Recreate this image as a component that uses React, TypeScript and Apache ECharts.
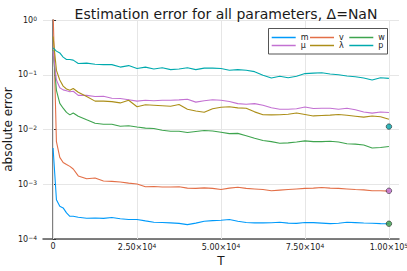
import React, { useEffect, useRef } from "react";
import * as echarts from "echarts";

const T = [0, 1000, 2000, 3000, 4000, 5000, 6000, 7500,
  10000, 12500, 15000, 17500, 20000, 22500, 25000, 27500, 30000, 32500,
  35000, 37500, 40000, 42500, 45000, 47500, 50000, 52500, 55000, 57500,
  60000, 62500, 65000, 67500, 70000, 72500, 75000, 77500, 80000, 82500,
  85000, 87500, 90000, 92500, 95000, 97500, 100000];

const mErr = [0.0046, 0.00052, 0.000395, 0.00037, 0.0003, 0.00026, 0.00026, 0.00025,
  0.00024, 0.000242, 0.000238, 0.000247, 0.000234, 0.000227, 0.000227, 0.000214, 0.000202, 0.0002,
  0.000197, 0.000193, 0.000183, 0.000195, 0.000211, 0.000217, 0.00022, 0.000227, 0.000211, 0.0002,
  0.000197, 0.000197, 0.000198, 0.000202, 0.000195, 0.000193, 0.0002, 0.000199, 0.000195, 0.000191,
  0.000194, 0.000202, 0.000199, 0.000196, 0.000194, 0.000191, 0.00019];

const vErr = [1.5, 0.006, 0.0031, 0.0025, 0.0023, 0.00212, 0.0019, 0.00142,
  0.00126, 0.0013, 0.00115, 0.00113, 0.0011, 0.00105, 0.00101, 0.0009, 0.00091, 0.00089,
  0.00089, 0.0009, 0.00085, 0.00084, 0.00086, 0.00084, 0.0008, 0.00085, 0.00088, 0.00084,
  0.00082, 0.0008, 0.00076, 0.00078, 0.0008, 0.00082, 0.00084, 0.00085, 0.00087, 0.00085,
  0.00084, 0.00082, 0.0008, 0.00079, 0.00076, 0.00076, 0.00075];

const wErr = [0.28, 0.052, 0.03, 0.0245, 0.0206, 0.0185, 0.02, 0.0175,
  0.015, 0.013, 0.0125, 0.0125, 0.0115, 0.0117, 0.0111, 0.0106, 0.0104, 0.0097,
  0.0093, 0.0093, 0.0088, 0.0092, 0.0096, 0.0094, 0.0089, 0.0084, 0.0085, 0.0077,
  0.0069, 0.0063, 0.006, 0.0056, 0.0057, 0.0059, 0.0062, 0.006, 0.006, 0.0061,
  0.0059, 0.0055, 0.0054, 0.0052, 0.0046, 0.0047, 0.0049];

const muErr = [0.27, 0.08, 0.058, 0.053, 0.051, 0.049, 0.05, 0.042,
  0.042, 0.04, 0.0405, 0.0373, 0.0368, 0.035, 0.033, 0.0343, 0.0336, 0.0343,
  0.0343, 0.0347, 0.0357, 0.0316, 0.0336, 0.035, 0.0343, 0.0325, 0.0297, 0.029,
  0.0297, 0.0278, 0.0249, 0.0234, 0.0234, 0.0239, 0.0257, 0.0242, 0.0245, 0.0245,
  0.0234, 0.0245, 0.023, 0.0209, 0.0199, 0.0209, 0.0204];

const lambdaErr = [0.5, 0.12, 0.08, 0.062, 0.055, 0.052, 0.056, 0.048,
  0.04, 0.033, 0.033, 0.0323, 0.0306, 0.0343, 0.026, 0.0284, 0.0278, 0.0272,
  0.0266, 0.0286, 0.0234, 0.0218, 0.0207, 0.0239, 0.0255, 0.026, 0.0248, 0.0245,
  0.021, 0.0186, 0.0185, 0.0186, 0.019, 0.02, 0.0188, 0.0177, 0.018, 0.0183,
  0.0188, 0.0182, 0.0175, 0.0168, 0.0176, 0.0171, 0.0154];

const pErr = [0.31, 0.27, 0.25, 0.21, 0.19, 0.19, 0.185, 0.16,
  0.163, 0.156, 0.153, 0.153, 0.138, 0.147, 0.13, 0.138, 0.127, 0.134,
  0.124, 0.127, 0.134, 0.124, 0.132, 0.132, 0.13, 0.121, 0.124, 0.121,
  0.114, 0.098, 0.087, 0.094, 0.088, 0.094, 0.105, 0.107, 0.109, 0.103,
  0.1, 0.095, 0.092, 0.087, 0.08, 0.088, 0.086];

const seriesNames = ["m", "v", "w", "μ", "λ", "p"];
const seriesColors = ["#009AFA", "#E36F47", "#3EA44E", "#C371D2", "#AC8E18", "#00AAAE"];
const seriesValues = [mErr, vErr, wErr, muErr, lambdaErr, pErr];

const dotT = [100000, 100000, 100000];
const dotValues = [0.0113, 0.00076, 0.00019];
const dotColors = ["#00A3A8", "#C06CCF", "#3A9E4A"];

const xTicks = [0, 25000, 50000, 75000, 100000];
const xTickMantissa = ["0", "2.50×10", "5.00×10", "7.50×10", "1.00×10"];
const xTickExponent = ["", "4", "4", "4", "5"];

const FONT = "DejaVu Sans";
const TXT = "#1a1a1a";

export default function App() {
  const ref = useRef<HTMLDivElement>(null);
  useEffect(() => {
    if (!ref.current) return;
    const chart = echarts.init(ref.current, undefined, { renderer: "svg" });
    const lines: any[] = seriesNames.map((name, i) => ({
      name,
      type: "line",
      data: T.map((t, k) => [t, seriesValues[i][k]]),
      showSymbol: false,
      symbol: "none",
      clip: true,
      lineStyle: { color: seriesColors[i], width: 1.1 },
      itemStyle: { color: seriesColors[i] },
      z: 2,
    }));
    lines[0].markLine = {
      silent: true,
      symbol: "none",
      label: { show: false },
      lineStyle: { color: "#e6e6e6", width: 1, type: "solid" },
      data: xTicks.map((t) => ({ xAxis: t })),
      z: 1,
    };
    const dots = {
      name: "dots",
      type: "scatter",
      data: dotT.map((t, k) => ({
        value: [t, dotValues[k]],
        itemStyle: { color: dotColors[k], borderColor: "#1a1a1a", borderWidth: 0.7 },
      })),
      symbolSize: 5.5,
      z: 3,
    };
    const legendBase = {
      orient: "vertical",
      padding: 0,
      itemGap: 0,
      itemWidth: 24,
      itemHeight: 1.5,
      icon: "rect",
      top: 33.5,
      textStyle: { fontFamily: FONT, fontSize: 8, lineHeight: 8, color: TXT, padding: [0, 0, 0, 0] },
      selectedMode: false,
    };
    const sup = { fontSize: 6, fontFamily: FONT, color: TXT, verticalAlign: "top", padding: [0, 0, 4, 0] };
    chart.setOption({
      animation: false,
      textStyle: { fontFamily: FONT },
      title: {
        text: "Estimation error for all parameters, Δ=NaN",
        left: 221,
        textAlign: "center",
        top: 2,
        textStyle: { fontFamily: FONT, fontSize: 14, fontWeight: "normal", color: TXT },
      },
      grid: { left: 43, right: 8, top: 20, bottom: 32, containLabel: false, outerBoundsMode: "none" },
      legend: [
        { ...legendBase, left: 271.7, data: ["m", "μ"] },
        { ...legendBase, left: 310, data: ["v", "λ"] },
        { ...legendBase, left: 349.3, data: ["w", "p"] },
      ],
      graphic: [
        {
          type: "rect",
          shape: { x: 268.5, y: 28.5, width: 119, height: 25.5 },
          style: { fill: "#fff", stroke: "#555", lineWidth: 1 },
          z: 3,
        },
      ],
      xAxis: {
        type: "value",
        min: -3000,
        max: 103000,
        name: "T",
        nameLocation: "middle",
        nameGap: 16,
        nameMoveOverlap: false,
        nameTextStyle: { fontFamily: FONT, fontSize: 12, color: TXT },
        axisLine: { show: true, onZero: false, lineStyle: { color: "#555", width: 1.5 } },
        axisTick: { show: true, inside: true, length: 3, customValues: xTicks, lineStyle: { color: "#333" } },
        axisLabel: {
          customValues: xTicks,
          fontFamily: FONT,
          fontSize: 8,
          color: TXT,
          margin: 3,
          hideOverlap: false,
          formatter: (v: number) => {
            const idx = xTicks.indexOf(v);
            if (idx < 0) return "";
            const e = xTickExponent[idx];
            return "{b|" + xTickMantissa[idx] + "}" + (e ? "{s|" + e + "}" : "");
          },
          rich: { b: { fontSize: 8, fontFamily: FONT, color: TXT }, s: sup },
        },
        splitLine: { show: false },
      },
      yAxis: {
        type: "log",
        logBase: 10,
        min: 1e-4,
        max: 1,
        name: "absolute error",
        nameLocation: "middle",
        nameGap: 29,
        nameMoveOverlap: false,
        nameTextStyle: { fontFamily: FONT, fontSize: 12, color: TXT },
        axisLine: { show: true, lineStyle: { color: "#555", width: 1.5 } },
        axisTick: { show: true, inside: true, length: 3, lineStyle: { color: "#333" } },
        axisLabel: {
          fontFamily: FONT,
          fontSize: 8,
          color: TXT,
          margin: 6,
          formatter: (v: number) => {
            const e = Math.round(Math.log10(v));
            return "{b|10}{s|" + (e < 0 ? "−" + -e : "" + e) + "}";
          },
          rich: { b: { fontSize: 8, fontFamily: FONT, color: TXT }, s: sup },
        },
        splitLine: { show: true, lineStyle: { color: "#e6e6e6", width: 1 } },
        minorTick: { show: false },
      },
      series: [...lines, dots],
    });
    return () => chart.dispose();
  }, []);
  return (
    <div
      ref={ref}
      style={{ position: "absolute", left: 0, top: 0, width: 407, height: 271, background: "#fff" }}
    />
  );
}
